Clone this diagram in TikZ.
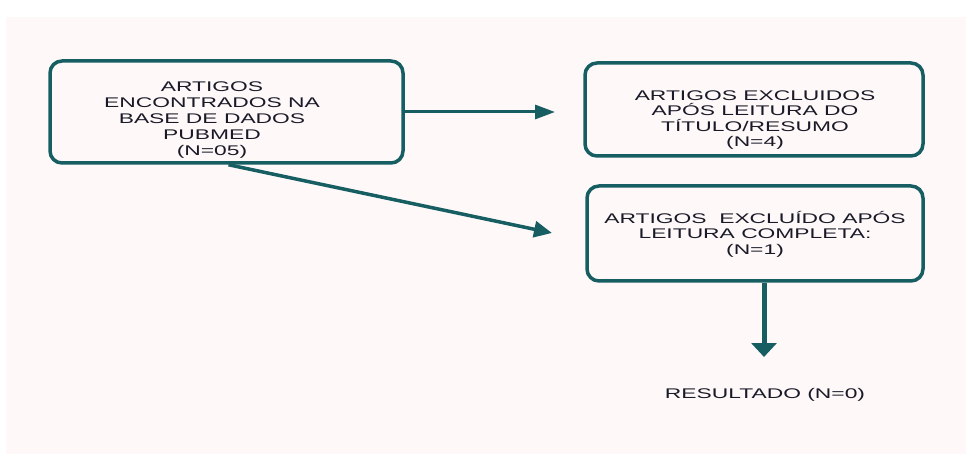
\documentclass[tikz,border=0pt]{standalone}
\usepackage{fontspec}
\setmainfont{Liberation Sans}[FakeStretch=1.63]
\usetikzlibrary{arrows.meta}
\definecolor{bgpink}{RGB}{254,249,248}
\definecolor{boxteal}{RGB}{23,94,99}
\definecolor{ink}{RGB}{25,25,40}
\begin{document}
\begin{tikzpicture}[x=1pt,y=-1pt,
  box/.style={draw=boxteal, line width=3.5pt, rounded corners=12pt, fill=bgpink, inner sep=0pt},
  txt/.style={text=ink, align=center, font=\fontsize{14}{15.5}\selectfont, inner sep=0pt},
  conn/.style={draw=boxteal, line width=3pt}]
\useasboundingbox (0,0) rectangle (966,454);
\fill[white] (0,0) rectangle (966,454);
\fill[bgpink] (6,17) rectangle (966,454);
% boxes
\node[box, minimum width=353pt, minimum height=102pt] (b1) at (226.5,112) {};
\node[txt, font=\fontsize{14}{16}\selectfont] (t1) at (212,120) {ARTIGOS\\ENCONTRADOS NA\\BASE DE DADOS\\PUBMED\\(N=05)};
\node[box, minimum width=338pt, minimum height=93pt] (b2) at (754,109.5) {};
\node[txt] (t2) at (755,120) {ARTIGOS EXCLUIDOS\\APÓS LEITURA DO\\TÍTULO/RESUMO\\(N=4)};
\node[box, minimum width=336pt, minimum height=95pt] (b3) at (755,233.5) {};
\node[txt] (t3) at (755,234) {ARTIGOS\ \ EXCLUÍDO APÓS\\LEITURA COMPLETA:\\(N=1)};
\node[txt] (res) at (765,395) {RESULTADO (N=0)};
% connector ends
\coordinate (e1) at (555,112);
\coordinate (e2) at (552,233);
\coordinate (e3) at (764,357);
\draw[conn, -{Triangle[length=20pt,width=14pt]}] (b1.east |- e1) -- (e1);
\draw[conn, line width=3.5pt, -{Triangle[length=18pt,width=16pt]}] ([xshift=2pt]b1.south) -- (e2);
\draw[conn, line width=5pt, -{Triangle[length=14pt,width=25pt]}] (b3.south -| e3) -- (e3);
\end{tikzpicture}
\end{document}
